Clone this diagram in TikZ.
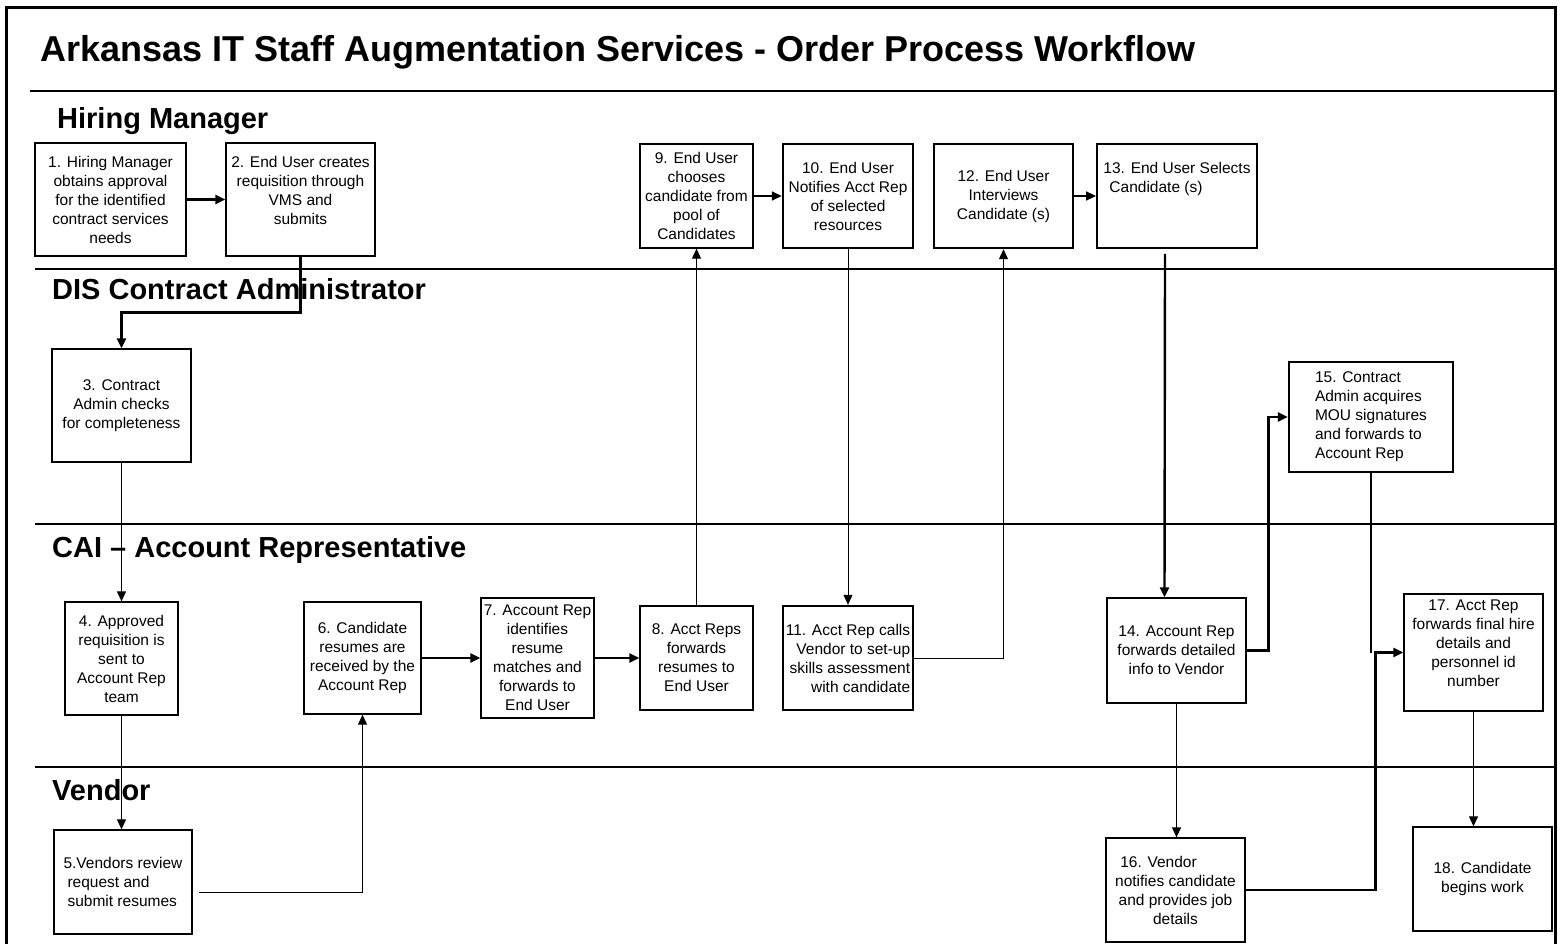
\documentclass[tikz,border=0pt]{standalone}
\usepackage{fontspec}
\setmainfont{Liberation Sans}
\usetikzlibrary{arrows.meta}

\begin{document}
\begin{tikzpicture}[x=1pt,y=-1pt,
	box/.style={draw,line width=1.3pt,inner sep=1pt,align=center,
		font=\fontsize{15.5}{19}\selectfont},
	heavybox/.style={box,line width=2.4pt},
	lane/.style={anchor=base west,inner sep=0pt,font=\fontsize{29}{34}\selectfont\bfseries},
	link/.style={line width=1pt,-{Triangle[length=10pt,width=9pt]}},
	boldlink/.style={line width=2.4pt,-{Triangle[length=10pt,width=9pt]}}]
			\useasboundingbox (0,0) rectangle (1561,943);
			% frame and lanes
			\draw[line width=3pt] (6,950) -- (6,7) -- (1555,7) -- (1555,950);
			\draw[line width=1.3pt] (30,91) -- (1555,91)
			(35,269) -- (1555,269)
			(35,524) -- (1555,524)
			(35,767) -- (1555,767);
			\node[anchor=base west,inner sep=0pt,font=\fontsize{36}{42}\selectfont\bfseries] (title) at (40,61)
			{Arkansas IT Staff Augmentation Services - Order Process Workflow};
			\node[lane] (hm) at (57,128) {Hiring Manager};
			\node[lane] (dis) at (52,299) {DIS Contract Administrator};
			\node[lane] (cai) at (52,557) {CAI -- Account Representative};
			\node[lane] (ven) at (52,800) {Vendor};
			% hiring manager
			\node[box,minimum width=151pt,minimum height=113pt] (b1) at (110.5,199.5)
			{1. Hiring Manager\\obtains approval\\for the identified\\contract services\\needs};
			\node[box,minimum width=149pt,minimum height=113pt] (b2) at (300.5,199.5)
			{2. End User creates\\requisition through\\VMS and\\submits\\~};
			\node[box,minimum width=113pt,minimum height=104pt] (b9) at (696.5,196)
			{9. End User\\chooses\\candidate from\\pool of\\Candidates};
			\node[heavybox,minimum width=130pt,minimum height=104pt] (b10) at (848,196)
			{10. End User\\Notifies Acct Rep\\of selected\\resources};
			\node[heavybox,minimum width=139pt,minimum height=104pt] (b12) at (1003.5,196)
			{12. End User\\Interviews\\Candidate (s)};
			\node[box,align=left,line width=1.8pt,minimum width=160pt,minimum height=104pt] (b13) at (1177,196)
			{13. End User Selects\\\hspace*{6pt}Candidate (s)\\~\\~};
			% contract administrator
			\node[box,minimum width=139pt,minimum height=113pt] (b3) at (121.5,405.5)
			{3. Contract\\Admin checks\\for completeness};
			\node[heavybox,align=left,minimum width=164pt,minimum height=110pt] (b15) at (1371,417)
			{15. Contract\\Admin acquires\\MOU signatures\\and forwards to\\Account Rep};
			% account representative
			\node[box,minimum width=113pt,minimum height=113pt] (b4) at (121.5,658.5)
			{4. Approved\\requisition is\\sent to\\Account Rep\\team};
			\node[box,minimum width=117pt,minimum height=112pt] (b6) at (362.5,658)
			{6. Candidate\\resumes are\\received by the\\Account Rep};
			\node[box,minimum width=113pt,minimum height=120pt] (b7) at (537.5,658)
			{7. Account Rep\\identifies\\resume\\matches and\\forwards to\\End User};
			\node[box,minimum width=113pt,minimum height=104pt] (b8) at (696.5,658)
			{8. Acct Reps\\forwards\\resumes to\\End User};
			\node[heavybox,align=right,minimum width=130pt,minimum height=104pt] (b11) at (848,658)
			{11. Acct Rep calls\\Vendor to set-up\\skills assessment\\with candidate};
			\node[box,minimum width=139pt,minimum height=105pt] (b14) at (1176.5,650.5)
			{14. Account Rep\\forwards detailed\\info to Vendor};
			\node[box,minimum width=139pt,minimum height=117pt] (b17) at (1473.5,652.5)
			{17. Acct Rep\\forwards final hire\\details and\\personnel id\\number\\~};
			% vendor
			\node[box,align=left,minimum width=138pt,minimum height=104pt] (b5) at (123,882)
			{5.Vendors review\\\hspace*{4pt}request and\\\hspace*{4pt}submit resumes};
			\node[box,minimum width=139pt,minimum height=104pt] (b16) at (1175.5,890)
			{16. Vendor\hspace*{34pt}\\notifies candidate\\and provides job\\details};
			\node[box,minimum width=139pt,minimum height=104pt] (b18) at (1482.5,879)
			{18. Candidate\\begins work};
			% connectors
			\draw[boldlink] (b1) -- (b2);
			\draw[boldlink] (b2.south) -- ++(0,56) -| (b3.north);
			\draw[link] (b3.south) -- (b4.north);
			\draw[link] (b4.south) -- (b4.south |- b5.north);
			\draw[link] ([yshift=-10pt]b5.east) ++(6,0) -| (b6.south);
			\draw[boldlink] (b6) -- (b7);
			\draw[boldlink] (b7) -- (b8);
			\draw[link] (b8) -- (b9);
			\draw[link,line width=1.6pt] (b9) -- (b10);
			\draw[link] (b10) -- (b11);
			\draw[link] (b11.east) -| (b12.south);
			\draw[link,line width=1.6pt] (b12) -- (b13);
			\draw[boldlink] ([xshift=-12pt,yshift=-5pt]b13.south) -- ([xshift=-12pt]b14.north);
			\draw[boldlink] (b14.east) -- ++(22,0) |- (b15.west);
			\draw[line width=2.4pt] (b15.south) -- (b15.south |- b17.west);
			\draw[boldlink] (b16.east) -- ++(130,0) |- (b17.west);
			\draw[link] (b14.south) -- (b14.south |- b16.north);
			\draw[link] (b17.south) -- (b17.south |- b18.north);
		\end{tikzpicture}
\end{document}
